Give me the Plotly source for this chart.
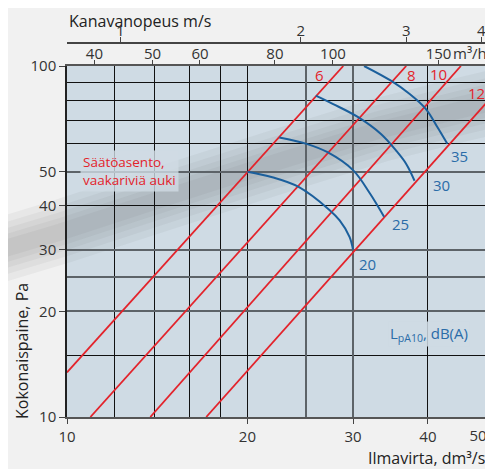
import numpy as np
import plotly.graph_objects as go

# ---------------- data ----------------
q_ticks = [10, 20, 30, 40, 50]                 # Ilmavirta, dm3/s
p_ticks = [10, 20, 30, 40, 50, 100]            # Kokonaispaine, Pa
q_grid_minor = [12, 14, 16, 18]
q_grid_gray = [25, 30]
p_grid_minor = [15, 60, 70, 80, 90]
p_grid_gray = [20, 25, 30, 50]
m3h_ticks = [40, 50, 60, 80, 100, 150]         # m3/h
ms_ticks = [1, 2, 3, 4]                        # Kanavanopeus m/s
duct_area_dm2 = 12.27                          # duct cross-section (dm2)

setting_labels = ["6", "8", "10", "12"]
setting_q = [[10.0, 28.9], [10.94, 36.8], [13.77, 45.4], [17.07, 50.0]]
setting_p = [[13.4, 100.0], [10.0, 100.0], [10.0, 100.0], [10.0, 78.3]]

sound_labels = ["20", "25", "30", "35"]
sound_q = [
    [20.0, 22.0, 24.3, 27.4, 28.5, 29.6, 30.0],
    [22.6, 25.1, 27.2, 30.0, 32.0, 33.8],
    [26.0, 27.8, 30.5, 33.4, 35.4, 36.8, 38.0],
    [31.3, 34.7, 37.3, 39.7, 41.5, 43.1],
]
sound_p = [
    [50.0, 48.2, 45.3, 38.9, 36.3, 32.6, 30.0],
    [62.6, 60.0, 56.8, 50.5, 43.4, 37.2],
    [82.3, 77.9, 71.7, 64.0, 57.4, 52.6, 47.1],
    [100.0, 90.8, 83.2, 75.4, 66.9, 60.0],
]

# ---------------- style ----------------
RED = "#e3232b"
BLUE = "#1b5f9c"
BLUE_TXT = "#2a6ca8"
PLOT_BG = "#cfdbe4"
PAPER_BG = "#f1f1f1"
TXT = "#333333"
FONT = "Open Sans"

OFF = 8                       # page body margin
W, H = 493 - OFF, 469 - OFF
ML, MR, MT, MB = 67 - OFF, 7, 10 - OFF, 52
PW = W - ML - MR
PH = H - MT - MB


def px_to_paper(px, py):
    """window pixel -> paper coordinates"""
    return ((px - OFF) - ML) / PW, (H - MB - (py - OFF)) / PH


ydom_top = px_to_paper(0, 66)[1]
ms_axis_pos = px_to_paper(0, 43)[1]

fig = go.Figure()

# decorative smoky band in the background
band_px = [(-20, 256), (60, 232), (180, 193), (280, 161), (380, 130), (460, 110), (515, 97)]
band_pts = [px_to_paper(x, y) for x, y in band_px]
band_path = "M " + " L ".join(f"{x:.4f},{y:.4f}" for x, y in band_pts)
for w in [64, 50, 38, 27, 17]:
    fig.add_shape(type="path", path=band_path, xref="paper", yref="paper",
                  line=dict(color="rgba(80,86,92,0.06)", width=w), layer="below")

# red setting lines
for lab, qs, ps in zip(setting_labels, setting_q, setting_p):
    fig.add_trace(go.Scatter(x=qs, y=ps, mode="lines", line=dict(color=RED, width=1.8),
                             hoverinfo="skip", showlegend=False))

# blue sound-level curves
for lab, qs, ps in zip(sound_labels, sound_q, sound_p):
    fig.add_trace(go.Scatter(x=qs, y=ps, mode="lines",
                             line=dict(color=BLUE, width=2, shape="spline", smoothing=1.0),
                             hoverinfo="skip", showlegend=False))

# bind extra axes
for xa, ya in [("x2", "y"), ("x3", "y"), ("x4", "y2"), ("x5", "y")]:
    fig.add_trace(go.Scatter(x=[], y=[], xaxis=xa, yaxis=ya, mode="markers",
                             hoverinfo="skip", showlegend=False))

xr = [1, np.log10(50)]
yr = [1, 2]

q_text = [str(v) for v in q_ticks[:-1]] + [""]

fig.update_layout(
    width=W, height=H,
    margin=dict(l=ML, r=MR, t=MT, b=MB, autoexpand=False),
    paper_bgcolor=PAPER_BG, plot_bgcolor=PLOT_BG,
    showlegend=False,
    font=dict(family=FONT, size=15, color=TXT),
    xaxis=dict(type="log", range=xr, domain=[0, 1], anchor="y",
               tickvals=q_ticks, ticktext=q_text,
               ticks="outside", ticklen=5, tickcolor="#444", tickwidth=1.2,
               showgrid=True, gridcolor="#111", gridwidth=1,
               minor=dict(tickvals=q_grid_minor, showgrid=True, gridcolor="#111",
                          gridwidth=1, ticks=""),
               showline=True, linecolor="#555", linewidth=2, mirror=True,
               zeroline=False, tickfont=dict(size=15, color=TXT)),
    xaxis5=dict(type="log", range=xr, overlaying="x", anchor="y", side="bottom",
                tickvals=[q_ticks[-1]], ticktext=[str(q_ticks[-1])],
                ticks="outside", ticklen=5, tickcolor="rgba(0,0,0,0)",
                ticklabelshift=-8, ticklabeloverflow="allow",
                showgrid=False, showline=False, zeroline=False,
                tickfont=dict(size=15, color=TXT)),
    yaxis=dict(type="log", range=yr, domain=[0, ydom_top], anchor="x",
               tickvals=p_ticks, ticktext=[str(v) for v in p_ticks],
               ticks="outside", ticklen=6, tickcolor="#444", tickwidth=1.2,
               showgrid=True, gridcolor="#111", gridwidth=1,
               minor=dict(tickvals=p_grid_minor, showgrid=True, gridcolor="#111",
                          gridwidth=1, ticks=""),
               showline=True, linecolor="#222", linewidth=1.5, mirror=True,
               zeroline=False, tickfont=dict(size=15, color=TXT)),
    xaxis2=dict(type="log", range=xr, overlaying="x", side="top", anchor="y",
                tickvals=[v / 3.6 for v in m3h_ticks], ticktext=[str(v) for v in m3h_ticks],
                ticks="outside", ticklen=5, tickcolor="#444", tickwidth=1.2,
                ticklabelstandoff=-5,
                showgrid=False, showline=False, zeroline=False,
                tickfont=dict(size=15, color=TXT)),
    xaxis3=dict(type="log", range=xr, overlaying="x", side="top", anchor="free",
                position=ms_axis_pos,
                tickvals=[v * duct_area_dm2 for v in ms_ticks], ticktext=[str(v) for v in ms_ticks],
                ticks="outside", ticklen=5, tickcolor="#444", tickwidth=1.2,
                ticklabelstandoff=-5,
                showgrid=False, showline=True, linecolor="#444", linewidth=1.5,
                zeroline=False, tickfont=dict(size=15, color=TXT)),
    xaxis4=dict(type="log", range=xr, overlaying="x", anchor="y2",
                tickvals=q_grid_gray, showticklabels=False, ticks="",
                showgrid=True, gridcolor="#5d6368", gridwidth=2,
                showline=False, zeroline=False),
    yaxis2=dict(type="log", range=yr, overlaying="y", anchor="x4", side="left",
                tickvals=p_grid_gray, showticklabels=False, ticks="",
                showgrid=True, gridcolor="#5d6368", gridwidth=2,
                showline=False, zeroline=False),
)

ann = []
# red setting labels (relative to line top ends)
red_offsets = [(-24, -9), (5, -9), (-22, -8), (-10, 10)]
for lab, qs, ps, (dx, dy) in zip(setting_labels, setting_q, setting_p, red_offsets):
    ann.append(dict(x=np.log10(qs[1]), y=np.log10(ps[1]), xref="x", yref="y",
                    text=lab, showarrow=False, xshift=dx, yshift=dy,
                    font=dict(family=FONT, size=15, color=RED)))

# blue sound labels (relative to curve end points)
blue_offsets = [(14, -14), (16, -7), (27, -4), (12, -12)]
for lab, qs, ps, (dx, dy) in zip(sound_labels, sound_q, sound_p, blue_offsets):
    ann.append(dict(x=np.log10(qs[-1]), y=np.log10(ps[-1]), xref="x", yref="y",
                    text=lab, showarrow=False, xshift=dx, yshift=dy,
                    font=dict(family=FONT, size=15, color=BLUE_TXT)))

bx, by = px_to_paper(80, 171)
ann.append(dict(x=bx, y=by, xref="paper", yref="paper", xanchor="left", yanchor="middle",
                align="left", showarrow=False,
                text="Säätöasento,<br>vaakariviä auki",
                bgcolor="rgba(207,219,228,0.8)", borderpad=2,
                font=dict(family=FONT, size=13.5, color=RED)))

lx, ly = px_to_paper(429, 334)
ann.append(dict(x=lx, y=ly, xref="paper", yref="paper", xanchor="center", yanchor="middle",
                showarrow=False, text="L<sub>pA10</sub>, dB(A)",
                bgcolor="rgba(207,219,228,0.85)", borderpad=1,
                font=dict(family=FONT, size=15, color=BLUE_TXT)))

kx, ky = px_to_paper(68, 8.5)
ann.append(dict(x=kx, y=ky, xref="paper", yref="paper", xanchor="left", yanchor="top",
                showarrow=False, text="Kanavanopeus m/s", borderpad=0,
                font=dict(family=FONT, size=16, color="#222")))

mx, my = px_to_paper(451, 53)
ann.append(dict(x=mx, y=my, xref="paper", yref="paper", xanchor="left", yanchor="middle",
                showarrow=False, text="m³/h",
                font=dict(family=FONT, size=15, color=TXT)))

ix, iy = px_to_paper(487, 458)
ann.append(dict(x=ix, y=iy, xref="paper", yref="paper", xanchor="right", yanchor="middle",
                showarrow=False, text="Ilmavirta, dm³/s",
                font=dict(family=FONT, size=16, color="#222")))

yx, yy = px_to_paper(22, 421)
ann.append(dict(x=yx, y=yy, xref="paper", yref="paper", xanchor="center", yanchor="bottom",
                showarrow=False, text="Kokonaispaine, Pa", textangle=-90,
                font=dict(family=FONT, size=16, color="#222")))

fig.update_layout(annotations=ann)

fig.write_html("out.html")
